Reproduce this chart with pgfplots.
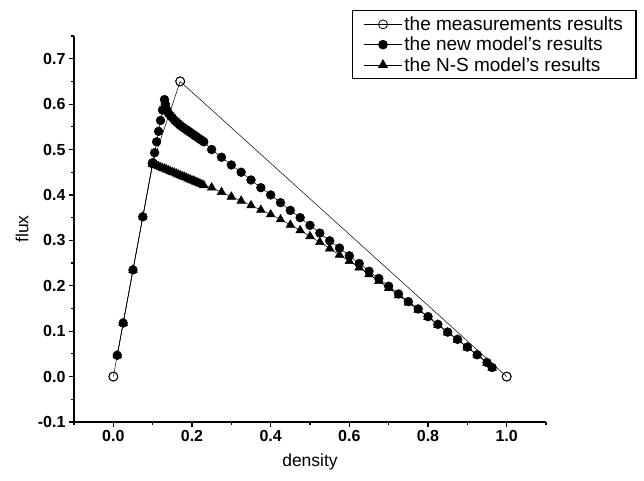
\documentclass[border=0pt]{standalone}
\usepackage{pgfplots}
\pgfplotsset{compat=1.18}
\usepackage{fontspec}
\setmainfont{Liberation Sans}
\begin{document}
\begin{tikzpicture}[x=1pt,y=1pt]
\path (-74,-58) rectangle (570,422);
\begin{axis}[at={(0,0)}, anchor=south west, scale only axis,
  width=472pt, height=386pt,
  xmin=-0.1, xmax=1.1, ymin=-0.1, ymax=0.75,
  axis x line*=bottom, axis y line*=left,
  axis line style={line width=1.5pt, black},
  tick align=outside, major tick length=5pt, minor tick length=3pt,
  every tick/.style={line width=1.2pt, black},
  xtick={0,0.2,0.4,0.6,0.8,1.0},
  ytick={-0.1,0,0.1,0.2,0.3,0.4,0.5,0.6,0.7},
  minor xtick={-0.1,0.1,0.3,0.5,0.7,0.9,1.1},
  minor ytick={-0.05,0.05,0.15,0.25,0.35,0.45,0.55,0.65,0.75},
  /pgf/number format/.cd, fixed, fixed zerofill, precision=1, assume math mode=true,
  /pgfplots/.cd,
  ticklabel style={font=\bfseries\fontsize{16}{16}\selectfont},
  xlabel={density}, ylabel={flux},
  xlabel style={font=\fontsize{17.5}{17.5}\selectfont, at={(axis description cs:0.5,-0.104)}, anchor=center},
  ylabel style={font=\fontsize{17.5}{17.5}\selectfont, at={(axis description cs:-0.11,0.5)}, anchor=center},
  legend cell align=left,
  legend style={at={(axis description cs:0.589,1.067)}, anchor=north west,
    draw=black, line width=1.2pt, font=\fontsize{19}{22}\selectfont,
    inner xsep=11pt, inner ysep=4pt, row sep=1pt},
  legend image code/.code={\draw[mark repeat=2,mark phase=2, line width=0.8pt]
     plot coordinates {(0pt,0pt) (19pt,0pt) (38pt,0pt)};},
  clip=false,
]
% measurements
\addplot[black, line width=0.5pt, mark=o, mark size=4.5pt,
  mark options={fill=white, line width=0.8pt}]
  coordinates {(0,0) (0.1,0.47) (0.17,0.65) (1.0,0.0)};
\addlegendentry{the measurements results}
% new model
\addplot[black, line width=0.5pt, mark=*, mark size=4.4pt]
  coordinates {
  (0.01,0.047) (0.025,0.118) (0.05,0.235) (0.075,0.352) (0.1,0.47)
  (0.105,0.493) (0.11,0.517) (0.115,0.54) (0.12,0.564) (0.125,0.587) (0.13,0.61)
  (0.132,0.600) (0.134,0.590) (0.137,0.585) (0.14,0.580) (0.145,0.575) (0.15,0.570)
  (0.155,0.565) (0.16,0.561) (0.165,0.557) (0.17,0.553) (0.175,0.550) (0.18,0.547)
  (0.185,0.544) (0.19,0.541) (0.195,0.538) (0.2,0.535) (0.205,0.532) (0.21,0.529)
  (0.215,0.526) (0.22,0.523) (0.225,0.520) (0.23,0.517)
  (0.25,0.500) (0.275,0.483) (0.30,0.466) (0.325,0.450) (0.35,0.433) (0.375,0.416)
  (0.40,0.400) (0.425,0.383) (0.45,0.366) (0.475,0.350) (0.50,0.333) (0.525,0.316)
  (0.55,0.299) (0.575,0.283) (0.60,0.266) (0.625,0.249) (0.65,0.232) (0.675,0.216)
  (0.70,0.199) (0.725,0.182) (0.75,0.165) (0.775,0.149) (0.80,0.132) (0.825,0.115)
  (0.85,0.098) (0.875,0.082) (0.90,0.065) (0.925,0.048) (0.95,0.031) (0.963,0.020)
  };
\addlegendentry{the new model's results}
% N-S model
\addplot[black, line width=0.5pt, mark=triangle*, mark size=5pt]
  coordinates {
  (0.01,0.047) (0.025,0.118) (0.05,0.235) (0.075,0.352) (0.1,0.468)
  (0.105,0.466) (0.11,0.465) (0.115,0.463) (0.12,0.461) (0.125,0.459) (0.13,0.458)
  (0.135,0.456) (0.14,0.454) (0.145,0.452) (0.15,0.450) (0.155,0.449) (0.16,0.447)
  (0.165,0.445) (0.17,0.443) (0.175,0.441) (0.18,0.440) (0.185,0.438) (0.19,0.436)
  (0.195,0.434) (0.2,0.432) (0.205,0.431) (0.21,0.429) (0.215,0.427) (0.22,0.425)
  (0.225,0.423) (0.23,0.421)
  (0.25,0.416) (0.275,0.406) (0.30,0.396) (0.325,0.387) (0.35,0.377) (0.375,0.367)
  (0.40,0.357) (0.425,0.346) (0.45,0.334) (0.475,0.322) (0.50,0.309) (0.525,0.296)
  (0.55,0.282) (0.575,0.268) (0.60,0.254) (0.625,0.240) (0.65,0.225) (0.675,0.210)
  (0.70,0.195) (0.725,0.179) (0.75,0.163) (0.775,0.147) (0.80,0.131) (0.825,0.114)
  (0.85,0.097) (0.875,0.081) (0.90,0.064) (0.925,0.047) (0.95,0.030) (0.963,0.019)
  };
\addlegendentry{the N-S model's results}
% measurement markers redrawn on top
\addplot[black, only marks, mark=o, mark size=4.5pt,
  mark options={fill=white, line width=0.8pt}, forget plot]
  coordinates {(0,0) (0.1,0.47) (0.17,0.65) (1.0,0.0)};
\end{axis}
\end{tikzpicture}
\end{document}
